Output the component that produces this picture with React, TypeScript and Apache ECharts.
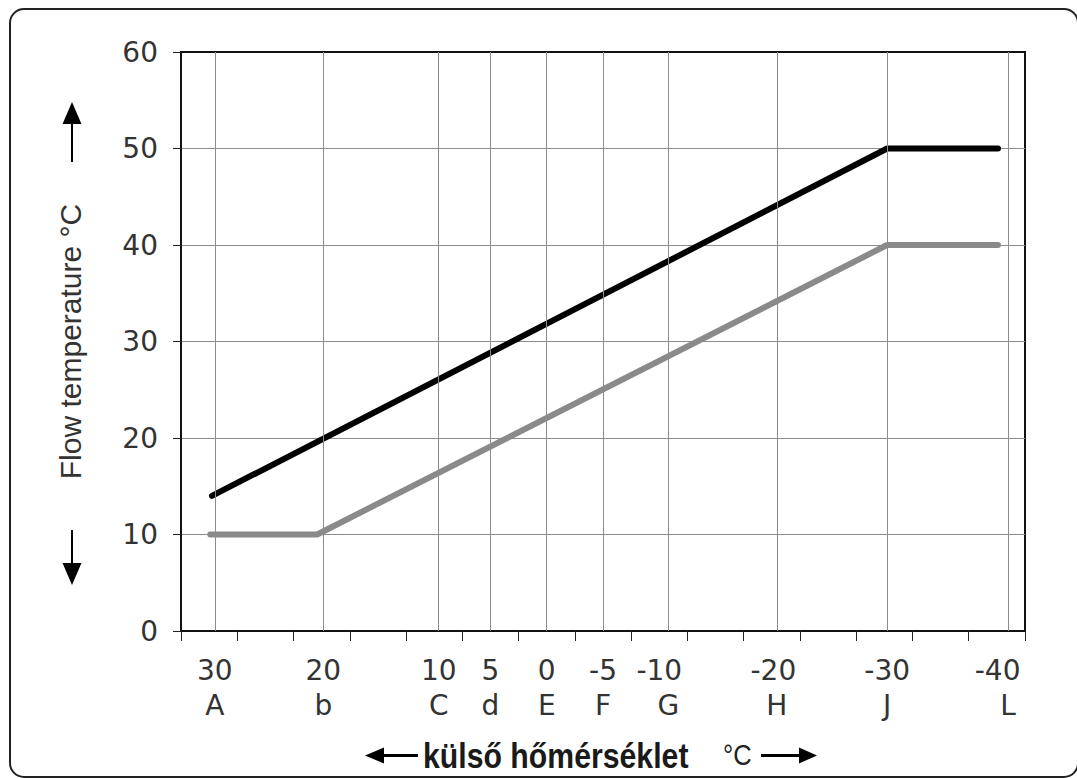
import React, { useEffect, useRef } from "react";
import * as echarts from "echarts";

// x axis is drawn in "tick units": 15 equal minor-tick intervals across the plot
const tickMin = 0;
const tickMax = 15;
// positions (in tick units) of the labelled outdoor-temperature grid lines
const labelPositions = [0.6, 2.53, 4.58, 5.5, 6.5, 7.5, 8.66, 10.59, 12.55, 14.7];
const outdoorTemps = ["30", "20", "10", "5", "0", "-5", "-10", "-20", "-30", "-40"];
const curveLetters = ["A", "b", "C", "d", "E", "F", "G", "H", "J", "L"];

// heating curves
const blackX = [0.55, 12.55, 14.52];
const blackY = [14, 50, 50];
const grayX = [0.52, 2.42, 12.55, 14.52];
const grayY = [10, 10, 40, 40];

const yMin = 0;
const yMax = 60;
const yStep = 10;

const yAxisTitle = "Flow temperature °C";
const xAxisTitle = "külső hőmérséklet";
const xAxisUnit = "°C";

const labelFont = "DejaVu Sans";
const textFont = "Liberation Sans";

// right padding of the temperature row (the reference nudges a few labels left)
const labelShift: Record<string, number> = { "-10": 18, "-20": 7, "-40": 21 };

export default function App() {
  const ref = useRef<HTMLDivElement>(null);

  useEffect(() => {
    if (!ref.current) return;
    const chart = echarts.init(ref.current, undefined, { renderer: "svg" });

    const blackData = blackX.map((x, i) => [x, blackY[i]]);
    const grayData = grayX.map((x, i) => [x, grayY[i]]);

    const rich: any = {};
    Object.keys(labelShift).forEach((k, idx) => {
      rich["s" + idx] = { padding: [0, labelShift[k], 0, 0], fontFamily: labelFont, fontSize: 28, lineHeight: 35, color: "#333" };
    });
    rich.n = { fontFamily: labelFont, fontSize: 28, lineHeight: 35, color: "#333" };

    const option: any = {
      animation: false,
      backgroundColor: "#fff",
      grid: {
        left: 181,
        top: 52,
        width: 844,
        height: 579,
        show: true,
        borderColor: "#111",
        borderWidth: 2,
        backgroundColor: "transparent",
      },
      xAxis: {
        type: "value",
        min: tickMin,
        max: tickMax,
        interval: 1,
        axisLine: { show: true, onZero: false, lineStyle: { color: "#111", width: 2 } },
        axisTick: { show: true, inside: false, length: 10, lineStyle: { color: "#222", width: 1 } },
        splitLine: { show: false },
        axisLabel: {
          show: true,
          customValues: labelPositions,
          margin: 22,
          fontFamily: labelFont,
          fontSize: 28,
          lineHeight: 35,
          color: "#333",
          rich,
          formatter: (v: number) => {
            const i = labelPositions.findIndex((p) => Math.abs(p - v) < 1e-6);
            if (i < 0) return "";
            const t = outdoorTemps[i];
            const keyIdx = Object.keys(labelShift).indexOf(t);
            const top = keyIdx >= 0 ? "{s" + keyIdx + "|" + t + "}" : "{n|" + t + "}";
            return top + "\n{n|" + curveLetters[i] + "}";
          },
        },
      },
      yAxis: {
        type: "value",
        min: yMin,
        max: yMax,
        interval: yStep,
        name: yAxisTitle,
        nameLocation: "middle",
        nameRotate: 90,
        nameGap: 96,
        nameTextStyle: { fontFamily: textFont, fontSize: 30, color: "#333" },
        axisLine: { show: true, lineStyle: { color: "#111", width: 2 } },
        axisTick: { show: true, inside: false, length: 8, lineStyle: { color: "#222", width: 1 } },
        splitLine: { show: true, showMaxLine: false, showMinLine: false, lineStyle: { color: "#8c8c8c", width: 1 } },
        axisLabel: { margin: 23, fontFamily: labelFont, fontSize: 28, color: "#333" },
      },
      series: [
        {
          type: "line",
          data: [],
          z: 1,
          silent: true,
          markLine: {
            silent: true,
            symbol: ["none", "none"],
            label: { show: false },
            lineStyle: { color: "#8c8c8c", width: 1, type: "solid" },
            data: labelPositions.map((p) => ({ xAxis: p })),
          },
        },
        {
          type: "line",
          data: grayData,
          showSymbol: false,
          symbol: "none",
          z: 3,
          lineStyle: { color: "#8a8a8a", width: 6, cap: "round", join: "round" },
        },
        {
          type: "line",
          data: blackData,
          showSymbol: false,
          symbol: "none",
          z: 4,
          lineStyle: { color: "#000", width: 6, cap: "round", join: "round" },
        },
      ],
      graphic: [
        {
          type: "rect",
          shape: { x: 10, y: 9, width: 1068, height: 768, r: 14 },
          style: { fill: "none", stroke: "#222", lineWidth: 2 },
          silent: true,
        },
        // y axis arrows
        { type: "line", shape: { x1: 72, y1: 122, x2: 72, y2: 162 }, style: { stroke: "#000", lineWidth: 2 } },
        { type: "polygon", shape: { points: [[72, 102], [62.5, 124], [81.5, 124]] }, style: { fill: "#000" } },
        { type: "line", shape: { x1: 72, y1: 530, x2: 72, y2: 565 }, style: { stroke: "#000", lineWidth: 2 } },
        { type: "polygon", shape: { points: [[72, 585], [62.5, 563], [81.5, 563]] }, style: { fill: "#000" } },
        // x axis title with arrows
        { type: "polygon", shape: { points: [[365, 755.5], [384, 747.5], [384, 763.5]] }, style: { fill: "#000" } },
        { type: "line", shape: { x1: 382, y1: 755.5, x2: 418, y2: 755.5 }, style: { stroke: "#000", lineWidth: 3 } },
        {
          type: "text",
          x: 423,
          y: 756,
          scaleX: 0.84,
          style: {
            text: xAxisTitle,
            fontFamily: textFont,
            fontWeight: "bold",
            fontSize: 36,
            fill: "#1a1a1a",
            align: "left",
            verticalAlign: "middle",
          },
        },
        {
          type: "text",
          x: 723,
          y: 755,
          scaleX: 0.85,
          style: {
            text: xAxisUnit,
            fontFamily: textFont,
            fontSize: 30,
            fill: "#222",
            align: "left",
            verticalAlign: "middle",
          },
        },
        { type: "line", shape: { x1: 761, y1: 755.5, x2: 801, y2: 755.5 }, style: { stroke: "#000", lineWidth: 3 } },
        { type: "polygon", shape: { points: [[817, 755.5], [799, 747.5], [799, 763.5]] }, style: { fill: "#000" } },
      ],
    };

    chart.setOption(option);
    return () => chart.dispose();
  }, []);

  return (
    <div
      ref={ref}
      style={{ position: "fixed", left: 0, top: 0, width: 1077, height: 778, background: "#fff" }}
    />
  );
}
